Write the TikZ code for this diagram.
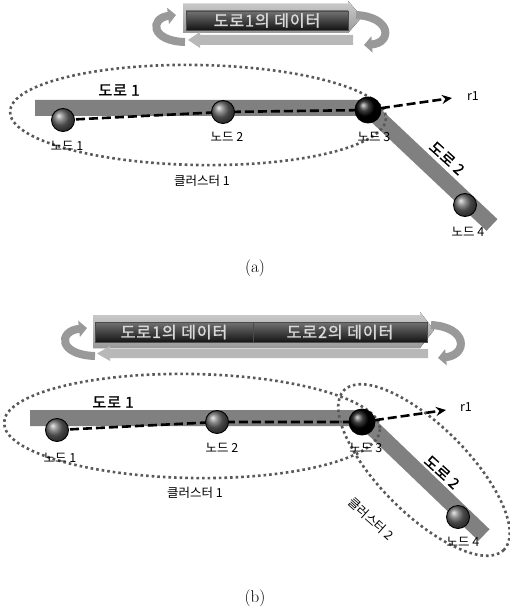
\documentclass[tikz,border=0pt]{standalone}
\usepackage{fontspec}
\newfontfamily\kr{Noto Sans CJK KR}
\newfontfamily\krw{Noto Sans CJK KR}[LetterSpace=6,FakeBold=1.5]
\usetikzlibrary{arrows.meta}
\begin{document}
\begin{tikzpicture}[x=1pt,y=-1pt,
  road/.style={line width=16pt, draw=black!50, line join=miter},
  ballnode/.style={circle, draw=black, line width=0.9pt, minimum size=23pt, inner sep=0pt, shading=ball, ball color=black!60},
  hotball/.style={ballnode, ball color=black, minimum size=26pt},
  lbl/.style={font=\kr\fontsize{12.5}{12.5}\selectfont, inner sep=0pt},
  roadlbl/.style={font=\krw\fontsize{15}{15}\selectfont, inner sep=0pt},
  route/.style={line width=2.6pt, draw=black, dash pattern=on 9pt off 4pt},
  cluster/.style={line width=2.6pt, draw=black!65, dash pattern=on 2.6pt off 3pt},
  bandup/.style={top color=black!20, bottom color=black!40},
  banddown/.style={fill=black!28},
  databox/.style={top color=black!55, bottom color=black!92, draw=black!70, line width=0.6pt},
  datatext/.style={font=\krw\fontsize{16}{16}\selectfont, text=white!85!black, inner sep=0pt},
  looparrow/.style={line width=8pt, draw=black!40, -{Triangle[width=16pt,length=8pt]}},
  captext/.style={font=\fontsize{17}{17}\selectfont, inner sep=0pt}
]
\useasboundingbox (0,0) rectangle (509,612);

%% ---------------- panel (a) ----------------
% banner
\fill[bandup] (183,4) -- (348,4) -- (348,1) -- (362,17) -- (348,33) -- (183,33) -- cycle;
\fill[banddown] (200,35) -- (353,35) -- (353,45) -- (200,45) -- (200,48) -- (188,40) -- (200,32) -- cycle;
\draw[looparrow] (185,42) .. controls (150,41) and (150,18) .. (176,15);
\draw[looparrow] (356,15) .. controls (392,17) and (392,43) .. (364,45);
\node[databox, minimum width=162pt, minimum height=19pt, inner sep=0pt] (da1) at (267,20.5) {};
\node[datatext] (ta1) at (da1) {도로1의 데이터};

% roads
\coordinate (a1) at (63,120);
\coordinate (a2) at (223,112);
\coordinate (a3) at (368,110);
\coordinate (a4) at (465,205);
\coordinate (ar) at (452,98);
\coordinate (aroadS) at (35,108);
\coordinate (aroadC) at (368,108);
\coordinate (aroadE) at (492,225);
\draw[road] (aroadS) -- (aroadC) -- (aroadE);

% cluster
\draw[cluster, rotate around={-1:(198,115)}] (198,115) ellipse [x radius=188, y radius=50];

% route
\draw[route] (a1) -- (a2) -- (a3);
\draw[route, -{Stealth[length=10pt,width=9pt]}] (a3) -- (ar);

% nodes
\node[ballnode] (na1) at (a1) {};
\node[ballnode] (na2) at (a2) {};
\node[hotball] (na3) at (a3) {};
\node[ballnode] (na4) at (a4) {};

% labels
\node[roadlbl] (la0) at (119,90) {도로 1};
\node[roadlbl, rotate=-42] (la5) at (447,158) {도로 2};
\node[lbl] (la1) at (67,146) {노드 1};
\node[lbl] (la2) at (227,137) {노드 2};
\node[lbl] (la3) at (374,137) {노드 3};
\node[lbl] (la4) at (468,232) {노드 4};
\node[lbl] (lac) at (202,181) {클러스터 1};
\node[lbl] (lar) at (473,96) {r1};
\node[captext] (capa) at (255,268) {(a)};

%% ---------------- panel (b) ----------------
% banner
\fill[bandup] (93,315) -- (420,315) -- (420,312) -- (434,330) -- (420,348) -- (93,348) -- cycle;
\fill[banddown] (110,349) -- (428,349) -- (428,358) -- (110,358) -- (110,361) -- (97,353.5) -- (110,346) -- cycle;
\draw[looparrow] (95,356) .. controls (58,355) and (58,331) .. (87,328);
\draw[looparrow] (431,325) .. controls (468,327) and (468,355) .. (438,358);
\node[databox, minimum width=158pt, minimum height=20pt, inner sep=0pt] (db1) at (174,332) {};
\node[databox, minimum width=174pt, minimum height=20pt, inner sep=0pt] (db2) at (340,332) {};
\node[datatext] (tb1) at (db1) {도로1의 데이터};
\node[datatext] (tb2) at (db2) {도로2의 데이터};

% roads
\coordinate (b1) at (57,430);
\coordinate (b2) at (217,422);
\coordinate (b3) at (362,422);
\coordinate (b4) at (458,517);
\coordinate (br) at (446,410);
\coordinate (broadS) at (30,418);
\coordinate (broadC) at (362,418);
\coordinate (broadE) at (484,535);
\draw[road] (broadS) -- (broadC) -- (broadE);

% clusters
\draw[cluster, rotate around={-1:(192,426)}] (192,426) ellipse [x radius=188, y radius=52];
\draw[cluster, rotate around={-45:(424,470)}] (424,470) ellipse [x radius=113, y radius=44];

% route
\draw[route] (b1) -- (b2) -- (b3);
\draw[route, -{Stealth[length=10pt,width=9pt]}] (b3) -- (br);

% nodes
\node[ballnode] (nb1) at (b1) {};
\node[ballnode] (nb2) at (b2) {};
\node[hotball] (nb3) at (b3) {};
\node[ballnode] (nb4) at (b4) {};

% labels
\node[roadlbl] (lb0) at (113,402) {도로 1};
\node[roadlbl, rotate=-42] (lb5) at (442,472) {도로 2};
\node[lbl] (lb1) at (60,458) {노드 1};
\node[lbl] (lb2) at (222,448) {노드 2};
\node[lbl] (lb3) at (366,448) {노드 3};
\node[lbl] (lb4) at (463,542) {노드 4};
\node[lbl] (lbc) at (195,493) {클러스터 1};
\node[lbl, rotate=-42] (lbc2) at (371,519) {클러스터 2};
\node[lbl] (lbr) at (466,407) {r1};
\node[captext] (capb) at (255,598) {(b)};
\end{tikzpicture}
\end{document}
